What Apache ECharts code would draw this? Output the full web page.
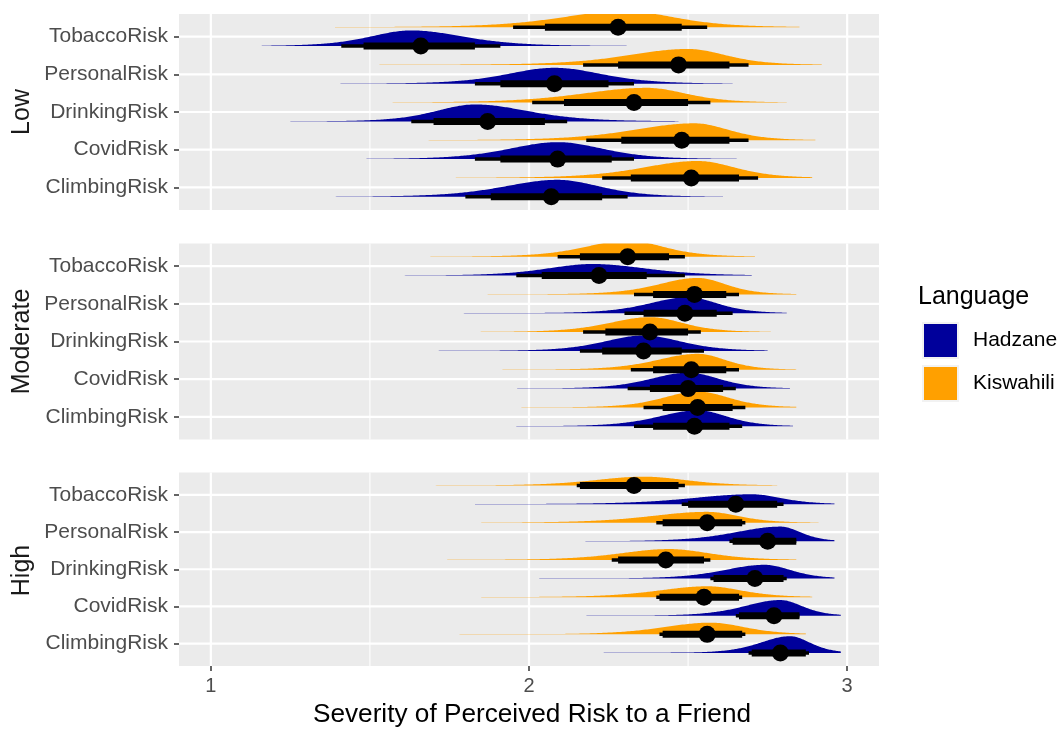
<!DOCTYPE html>
<html>
<head>
<meta charset="utf-8">
<script src="https://cdn.jsdelivr.net/npm/echarts@6/dist/echarts.min.js"></script>
<style>
  html, body { margin: 0; background: #fff; }
  #main { width: 1059px; height: 729px; }
</style>
</head>
<body>
<div id="main"></div>
<script>
// categories, top to bottom inside each panel
var risks = ['TobaccoRisk', 'PersonalRisk', 'DrinkingRisk', 'CovidRisk', 'ClimbingRisk'];
var levels = ['Low', 'Moderate', 'High'];
var languages = ['Hadzane', 'Kiswahili'];
var xTicks = [1, 2, 3];
var xMinorTicks = [1.5, 2.5];

// one row per risk: tailLo, bodyLo, lo95, lo66, median, hi66, hi95, bodyHi, tailHi, mode, peak
var lowHadzane = [
  [1.16, 1.37, 1.41, 1.48, 1.66, 1.83, 1.91, 1.96, 2.36, 1.63, 0.92],
  [1.34, 1.78, 1.83, 1.91, 2.08, 2.25, 2.33, 2.38, 2.64, 2.08, 0.94],
  [1.25, 1.58, 1.63, 1.70, 1.87, 2.05, 2.12, 2.17, 2.47, 1.83, 1.00],
  [1.42, 1.78, 1.83, 1.91, 2.09, 2.26, 2.33, 2.38, 2.66, 2.09, 1.00],
  [1.30, 1.75, 1.80, 1.88, 2.07, 2.23, 2.31, 2.36, 2.61, 2.09, 1.00]
];
var lowKiswahili = [
  [1.39, 1.90, 1.95, 2.05, 2.28, 2.48, 2.56, 2.62, 2.85, 2.30, 0.95],
  [1.53, 2.12, 2.17, 2.28, 2.47, 2.63, 2.69, 2.74, 2.92, 2.50, 0.94],
  [1.46, 1.96, 2.01, 2.11, 2.33, 2.50, 2.57, 2.62, 2.81, 2.37, 0.87],
  [1.57, 2.13, 2.18, 2.29, 2.48, 2.63, 2.69, 2.74, 2.90, 2.52, 1.00],
  [1.77, 2.18, 2.23, 2.32, 2.51, 2.66, 2.72, 2.77, 2.89, 2.53, 1.00]
];
var moderateHadzane = [
  [1.46, 1.91, 1.96, 2.04, 2.22, 2.37, 2.49, 2.54, 2.70, 2.20, 0.68],
  [1.69, 2.25, 2.30, 2.36, 2.49, 2.59, 2.64, 2.69, 2.81, 2.50, 0.94],
  [1.69, 2.11, 2.16, 2.23, 2.36, 2.48, 2.55, 2.60, 2.75, 2.36, 0.91],
  [1.73, 2.26, 2.31, 2.38, 2.50, 2.61, 2.65, 2.70, 2.82, 2.50, 0.94],
  [1.79, 2.28, 2.33, 2.39, 2.52, 2.63, 2.67, 2.72, 2.83, 2.53, 0.94]
];
var moderateKiswahili = [
  [1.69, 2.04, 2.09, 2.16, 2.31, 2.44, 2.49, 2.54, 2.71, 2.31, 0.95],
  [1.87, 2.28, 2.33, 2.39, 2.52, 2.62, 2.66, 2.71, 2.84, 2.53, 0.97],
  [1.67, 2.12, 2.17, 2.24, 2.38, 2.50, 2.54, 2.59, 2.76, 2.38, 0.88],
  [1.78, 2.27, 2.32, 2.39, 2.51, 2.62, 2.66, 2.71, 2.84, 2.53, 0.94],
  [1.91, 2.31, 2.36, 2.42, 2.53, 2.64, 2.68, 2.73, 2.84, 2.53, 0.94]
];
var highHadzane = [
  [1.83, 2.32, 2.48, 2.50, 2.65, 2.78, 2.80, 2.89, 2.96, 2.70, 0.59],
  [1.95, 2.50, 2.63, 2.64, 2.75, 2.84, 2.84, 2.92, 2.96, 2.79, 0.88],
  [1.83, 2.48, 2.57, 2.58, 2.71, 2.80, 2.81, 2.91, 2.96, 2.74, 0.82],
  [2.05, 2.56, 2.65, 2.66, 2.77, 2.85, 2.85, 2.93, 2.98, 2.79, 0.94],
  [2.15, 2.63, 2.69, 2.70, 2.79, 2.87, 2.88, 2.95, 2.98, 2.82, 1.00]
];
var highKiswahili = [
  [1.56, 2.05, 2.15, 2.16, 2.33, 2.47, 2.49, 2.63, 2.78, 2.36, 0.53],
  [1.85, 2.20, 2.40, 2.42, 2.56, 2.67, 2.68, 2.76, 2.91, 2.56, 0.65],
  [1.71, 2.13, 2.26, 2.28, 2.43, 2.55, 2.57, 2.70, 2.84, 2.44, 0.65],
  [1.85, 2.25, 2.40, 2.41, 2.55, 2.66, 2.67, 2.78, 2.89, 2.56, 0.65],
  [1.43, 2.27, 2.41, 2.42, 2.56, 2.67, 2.68, 2.79, 2.87, 2.57, 0.70]
];

var panelRows = [
  [lowHadzane, lowKiswahili],
  [moderateHadzane, moderateKiswahili],
  [highHadzane, highKiswahili]
];
var colors = { Hadzane: '#00009B', Kiswahili: '#FFA000' };
var offsets = { Hadzane: -0.25, Kiswahili: 0.25 };
var font = 'Liberation Sans, Arial, sans-serif';
var panelTop = [14, 243.5, 472.5];
var panelHeight = 196;

var myChart = echarts.init(document.getElementById('main'));

// slab: half-eye density built from the read mode, body width and peak
function slabItem(offset, color) {
  return function (params, api) {
    var base = api.value(0) + offset;
    var tailLo = api.value(1), bodyLo = api.value(2);
    var bodyHi = api.value(8), tailHi = api.value(9);
    var mode = api.value(10), peak = api.value(11);
    var maxH = peak * 0.45 * api.size([0, 1])[1];
    var n = 260;
    var pts = [];
    for (var k = 0; k <= n; k++) {
      var x = tailLo + (tailHi - tailLo) * k / n;
      var z = x < mode ? (mode - x) / (mode - bodyLo) * 1.95 : (x - mode) / (bodyHi - mode) * 1.95;
      var d = Math.pow(1 + z * z / 6, -3.5);
      var fade = 0.8 * (x < mode ? (x - tailLo) / (mode - tailLo) : (tailHi - x) / (tailHi - mode));
      var h = Math.max(d * maxH, fade);
      var p = api.coord([x, base]);
      pts.push([p[0], p[1] - h]);
    }
    pts.push(api.coord([tailHi, base]), api.coord([tailLo, base]));
    return { type: 'polygon', shape: { points: pts }, style: { fill: color } };
  };
}

function intervalItem(offset) {
  return function (params, api) {
    var base = api.value(0) + offset;
    var a95 = api.coord([api.value(3), base]), b95 = api.coord([api.value(7), base]);
    var a66 = api.coord([api.value(4), base]), b66 = api.coord([api.value(6), base]);
    var m = api.coord([api.value(5), base]);
    return {
      type: 'group',
      children: [
        { type: 'line', shape: { x1: a95[0], y1: a95[1], x2: b95[0], y2: b95[1] }, style: { stroke: '#000', lineWidth: 3.5 } },
        { type: 'line', shape: { x1: a66[0], y1: a66[1], x2: b66[0], y2: b66[1] }, style: { stroke: '#000', lineWidth: 7 } },
        { type: 'circle', shape: { cx: m[0], cy: m[1], r: 8.5 }, style: { fill: '#000' } }
      ]
    };
  };
}

var grids = [], xAxes = [], yAxes = [], series = [];
levels.forEach(function (lv, p) {
  var last = p === levels.length - 1;
  grids.push({
    left: 179, right: 180, top: panelTop[p], height: panelHeight,
    show: true, backgroundColor: '#EBEBEB', borderWidth: 0
  });
  xAxes.push({
    gridIndex: p, type: 'value', min: 0.9, max: 3.1,
    axisLine: { show: false },
    splitLine: { show: false },
    axisTick: { show: last, customValues: xTicks, length: 5, lineStyle: { color: '#333', width: 1.5 } },
    axisLabel: { show: last, customValues: xTicks, margin: 10, fontSize: 20, color: '#4D4D4D', fontFamily: font },
    name: last ? 'Severity of Perceived Risk to a Friend' : '',
    nameLocation: 'middle', nameGap: 36,
    nameTextStyle: { fontSize: 26.2, color: '#000', fontFamily: font, padding: [0, 0, 0, 6] }
  });
  yAxes.push({
    gridIndex: p, type: 'value', min: 0.4, max: 5.6,
    axisLine: { show: false },
    splitLine: { show: false },
    axisTick: { show: true, customValues: [1, 2, 3, 4, 5], length: 5, lineStyle: { color: '#333', width: 1.5 } },
    axisLabel: {
      customValues: [1, 2, 3, 4, 5], margin: 11, fontSize: 21, color: '#4D4D4D', fontFamily: font,
      padding: [4, 0, 0, 0],
      formatter: function (v) { return risks[5 - v]; }
    }
  });

  // white grid lines
  series.push({
    type: 'custom', xAxisIndex: p, yAxisIndex: p, silent: true, z: 1,
    data: xTicks.concat(xMinorTicks).map(function (v) { return [v]; }),
    encode: { x: 0 },
    renderItem: function (params, api) {
      var cs = params.coordSys;
      var v = api.value(0);
      var x = api.coord([v, 1])[0];
      return { type: 'line', shape: { x1: x, y1: cs.y, x2: x, y2: cs.y + cs.height },
        style: { stroke: '#fff', lineWidth: xTicks.indexOf(v) >= 0 ? 2.2 : 1.1 } };
    }
  });
  series.push({
    type: 'custom', xAxisIndex: p, yAxisIndex: p, silent: true, z: 1,
    data: [1, 2, 3, 4, 5].map(function (v) { return [v]; }),
    encode: { y: 0 },
    renderItem: function (params, api) {
      var cs = params.coordSys;
      var y = api.coord([1, api.value(0)])[1];
      return { type: 'line', shape: { x1: cs.x, y1: y, x2: cs.x + cs.width, y2: y },
        style: { stroke: '#fff', lineWidth: 2.2 } };
    }
  });

  languages.forEach(function (lang, li) {
    var rows = panelRows[p][li].map(function (r, i) { return [5 - i].concat(r); });
    series.push({
      name: lang, type: 'custom', xAxisIndex: p, yAxisIndex: p, silent: true, z: 3, clip: true,
      itemStyle: { color: colors[lang] },
      data: rows, encode: { y: 0, x: [1, 9] },
      renderItem: slabItem(offsets[lang], colors[lang])
    });
  });
  languages.forEach(function (lang, li) {
    var rows = panelRows[p][li].map(function (r, i) { return [5 - i].concat(r); });
    series.push({
      name: lang + ' interval', type: 'custom', xAxisIndex: p, yAxisIndex: p, silent: true, z: 4, clip: true,
      data: rows, encode: { y: 0, x: [3, 7] },
      renderItem: intervalItem(offsets[lang])
    });
  });
});

var option = {
  animation: false,
  title: {
    text: 'Language', left: 913, top: 280,
    textStyle: { fontSize: 25, fontWeight: 'normal', color: '#000', fontFamily: font }
  },
  legend: {
    data: languages, orient: 'vertical', left: 917, top: 317,
    icon: 'rect', itemWidth: 35, itemHeight: 35, itemGap: 6,
    selectedMode: false,
    itemStyle: { borderColor: '#F2F2F2', borderWidth: 2 },
    textStyle: { fontSize: 21, color: '#000', fontFamily: font, padding: [0, 0, 0, 10] }
  },
  graphic: levels.map(function (lv, p) {
    return {
      type: 'text', x: 22, y: panelTop[p] + panelHeight / 2, rotation: Math.PI / 2,
      style: { text: lv, fontSize: 25, fill: '#1A1A1A', align: 'center', verticalAlign: 'middle', fontFamily: font }
    };
  }),
  grid: grids,
  xAxis: xAxes,
  yAxis: yAxes,
  series: series
};

// 使用刚指定的配置项和数据显示图表。
myChart.setOption(option, true);
</script>
</body>
</html>
